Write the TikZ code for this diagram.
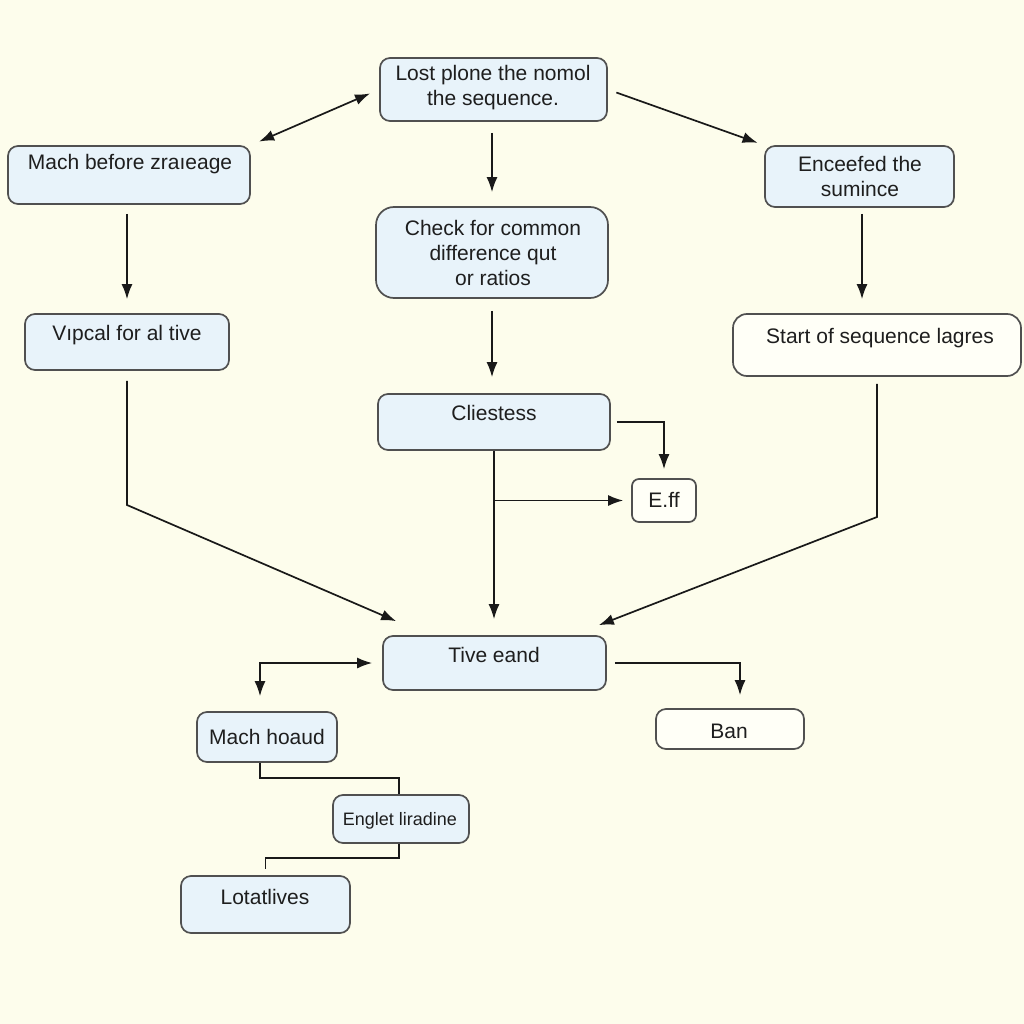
\documentclass[tikz,border=0pt]{standalone}
\usepackage{fontspec}
\setmainfont{Liberation Sans}
\usetikzlibrary{arrows.meta,calc}
\definecolor{bgcol}{RGB}{253,253,236}
\definecolor{boxblue}{RGB}{232,243,250}
\definecolor{boxwhite}{RGB}{255,255,247}
\definecolor{edgecol}{RGB}{80,80,80}
\definecolor{linecol}{RGB}{25,25,25}
\definecolor{txtcol}{RGB}{30,30,30}
\begin{document}
\begin{tikzpicture}[x=1pt,y=-1pt,
  bx/.style={draw=edgecol,line width=1.7pt,fill=boxblue,rounded corners=10pt,inner sep=0pt},
  wbx/.style={bx,fill=boxwhite},
  txt/.style={text=txtcol,font=\fontsize{21}{25}\selectfont,align=center,inner sep=0pt},
  smtxt/.style={txt,font=\fontsize{18}{22}\selectfont},
  arr/.style={draw=linecol,line width=1.7pt,-{Latex[length=15pt,width=11pt]}},
  darr/.style={draw=linecol,line width=1.7pt,{Latex[length=15pt,width=11pt]}-{Latex[length=15pt,width=11pt]}},
  ln/.style={draw=linecol,line width=1.7pt}]
\fill[bgcol] (0,0) rectangle (1024,1024);
\useasboundingbox (0,0) rectangle (1024,1024);

% boxes
\node[bx,minimum width=227pt,minimum height=63pt] (T) at (493.5,89.5) {};
\node[txt] (tT) at (493,88) {Lost plone the nomol\\the sequence.};

\node[bx,minimum width=242pt,minimum height=58pt] (M1) at (129,175) {};
\node[txt] (tM1) at (130,164) {Mach before zra\i eage};

\node[bx,minimum width=189pt,minimum height=61pt] (E) at (859.5,176.5) {};
\node[txt] (tE) at (860,176) {Enceefed the\\sumince};

\node[bx,rounded corners=18pt,minimum width=232pt,minimum height=91pt] (C) at (492,252.5) {};
\node[txt] (tC) at (493,253) {Check for common\\difference qut\\or ratios};

\node[bx,minimum width=204pt,minimum height=56pt] (V) at (127,342) {};
\node[txt] (tV) at (127,335) {V\i pcal for al tive};

\node[wbx,rounded corners=14pt,minimum width=288pt,minimum height=62pt] (S) at (877,345) {};
\node[txt] (tS) at (880,338) {Start of sequence lagres};

\node[bx,minimum width=232pt,minimum height=56pt] (Cl) at (494,422) {};
\node[txt] (tCl) at (494,413) {Cliestess};

\node[wbx,rounded corners=7pt,minimum width=64pt,minimum height=43pt] (Eff) at (664,500.5) {};
\node[txt] (tEff) at (664,500) {E.ff};

\node[bx,minimum width=223pt,minimum height=54pt] (Tv) at (494.5,663) {};
\node[txt] (tTv) at (494,655) {Tive eand};

\node[bx,minimum width=140pt,minimum height=50pt] (MH) at (267,737) {};
\node[txt] (tMH) at (267,737) {Mach hoaud};

\node[wbx,minimum width=148pt,minimum height=40pt] (B) at (730,729) {};
\node[txt] (tB) at (729,731) {Ban};

\node[bx,minimum width=136pt,minimum height=48pt] (EL) at (401,819) {};
\node[smtxt] (tEL) at (400,821) {Englet liradine};

\node[bx,minimum width=169pt,minimum height=57pt] (L) at (265.5,904.5) {};
\node[txt] (tL) at (265,897) {Lotatlives};

% connectors
\draw[darr,shorten <=10pt,shorten >=9pt] (T.west) -- (M1.north east);
\draw[arr,shorten <=9pt,shorten >=7pt] (T.east) -- (E.north west);
\draw[arr,shorten <=11pt,shorten >=14pt] (T.south -| C.north) -- (C.north);
\coordinate (m1s) at ($(M1.south)+(-2,0)$);
\draw[arr,shorten <=9pt,shorten >=14pt] (m1s) -- (m1s |- V.north);
\coordinate (es) at ($(E.south)+(2.5,0)$);
\draw[arr,shorten <=6pt,shorten >=14pt] (es) -- (es |- S.north);
\draw[arr,shorten <=12pt,shorten >=16pt] (C.south) -- (C.south |- Cl.north);
\draw[arr,shorten <=6pt,shorten >=9pt] (Cl.east) -| (Eff.north);
\draw[arr,shorten >=16pt] (Cl.south) -- (Cl.south |- Tv.north);
\draw[arr,shorten >=8pt] (Cl.south |- Eff.west) -- (Eff.west);
\coordinate (vb) at (127,505);
\coordinate (ve) at ($(Tv.north west)+(14,-14)$);
\draw[arr,shorten <=10pt] (V.south) -- (vb) -- (ve);
\coordinate (sb) at (877,517);
\coordinate (se) at ($(Tv.north east)+(-8,-10)$);
\draw[arr,shorten <=7pt] (S.south) -- (sb) -- (se);
\coordinate (mhn) at ($(MH.north)+(-7,0)$);
\draw[darr,shorten <=10pt,shorten >=15pt] (Tv.west) -| (mhn);
\coordinate (bn) at ($(B.north)+(10,0)$);
\draw[arr,shorten <=8pt,shorten >=13pt] (Tv.east) -| (bn);
\coordinate (mhs) at ($(MH.south)+(-7,0)$);
\coordinate (eln) at ($(EL.north)+(-2,0)$);
\draw[ln] (mhs) -- ++(0,15) -| (eln);
\coordinate (els) at ($(EL.south)+(-2,0)$);
\coordinate (ln) at ([yshift=6pt]L.north);
\draw[ln] (els) -- ++(0,14) -| (ln);
\end{tikzpicture}
\end{document}
